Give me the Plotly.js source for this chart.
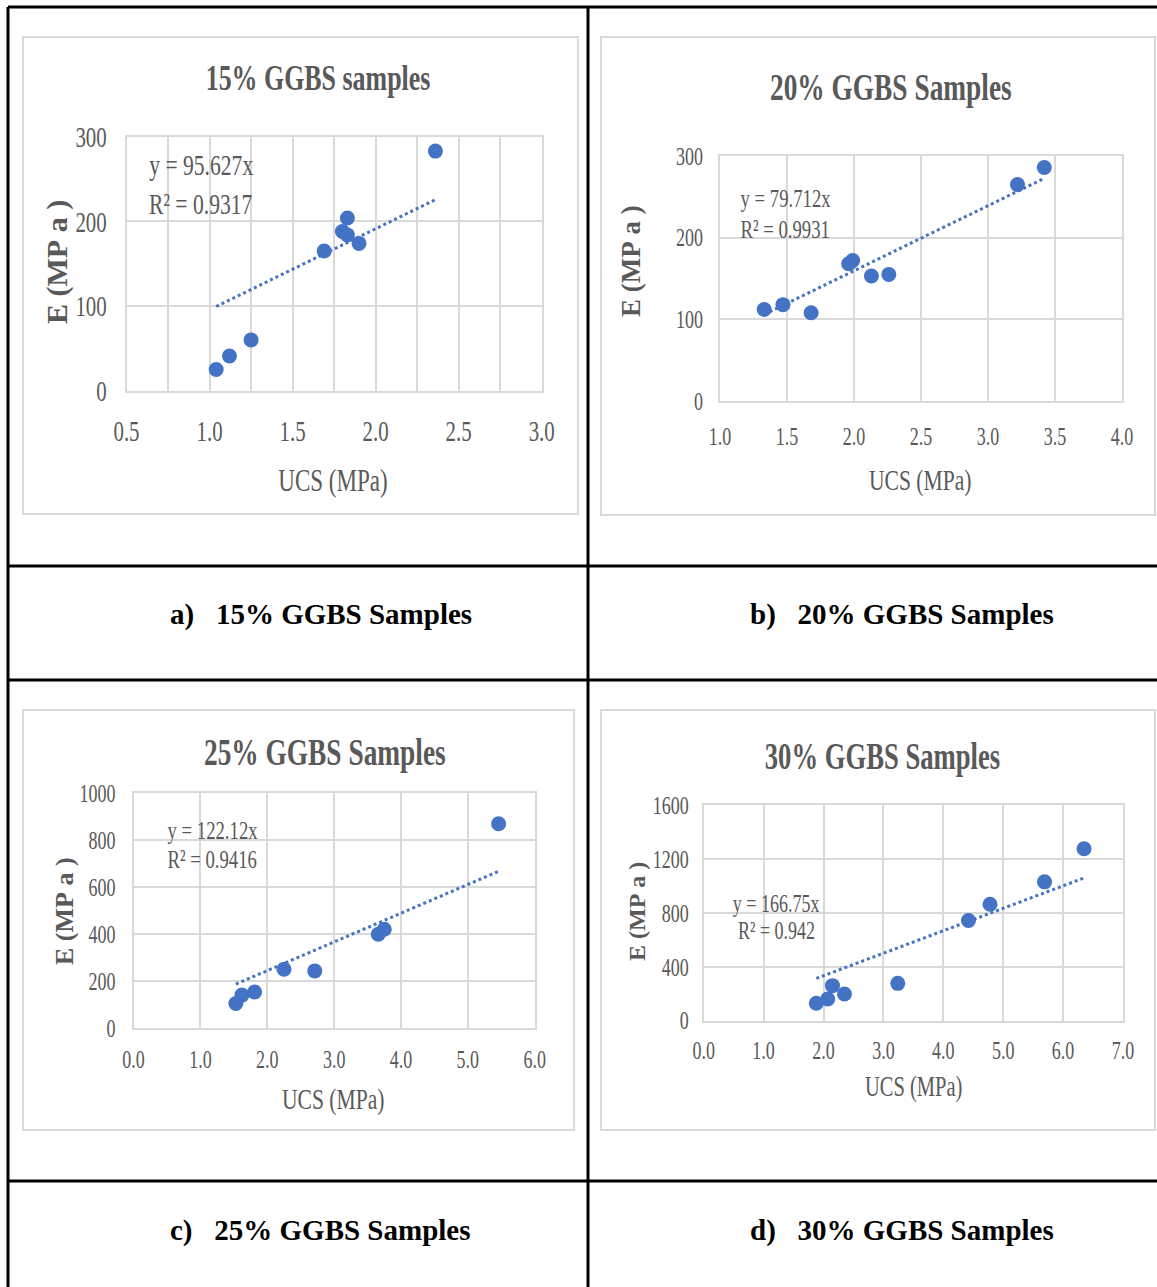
<!DOCTYPE html>
<html>
<head>
<meta charset="utf-8">
<script src="https://cdn.plot.ly/plotly-3.0.1.min.js"></script>
<style>html,body{margin:0;padding:0;background:#fff;}</style>
</head>
<body>
<div id="chart" style="width:1157px;height:1287px;"></div>
<script>
// ---- data ----
const ucs15 = [1.04, 1.12, 1.25, 1.69, 1.80, 1.83, 1.83, 1.90, 2.36];
const e15   = [25, 41, 60, 165, 188, 184, 204, 174, 283];
const ucs20 = [1.33, 1.47, 1.68, 1.96, 1.99, 2.13, 2.26, 3.22, 3.42];
const e20   = [112, 118, 108, 168, 172, 153, 155, 265, 286];
const ucs25 = [1.53, 1.62, 1.81, 2.25, 2.71, 3.66, 3.75, 5.46];
const e25   = [104, 140, 153, 250, 243, 399, 420, 869];
const ucs30 = [1.88, 2.07, 2.15, 2.35, 3.24, 4.42, 4.78, 5.69, 6.35];
const e30   = [129, 161, 260, 198, 277, 743, 864, 1030, 1275];
const slopes = [95.627, 79.712, 122.12, 166.75];
const r2Labels = ["0.9317", "0.9931", "0.9416", "0.942"];
const chartTitles = ["15% GGBS samples", "20% GGBS Samples", "25% GGBS Samples", "30% GGBS Samples"];
const captions = ["a)\u00a0\u00a0 15% GGBS Samples", "b)\u00a0\u00a0 20% GGBS Samples",
                  "c)\u00a0\u00a0 25% GGBS Samples", "d)\u00a0\u00a0 30% GGBS Samples"];
const xLabel = "UCS (MPa)";
const yLabel = "E\u00a0(MP\u00a0a\u00a0)";

// ---- layout helpers ----
const W = 1157, H = 1287;
const px = x => x / W;
const py = y => 1 - y / H;
const BLUE = '#4472C4', GRID = '#d9d9d9', TXT = '#595959';
const SERIF = 'Liberation Serif, Times New Roman, serif';
const SQUEEZE = 0.72;   // the reference chart images are horizontally compressed

const panels = [
  {xs: ucs15, ys: e15, xr: [0.5, 3.0], xd: 0.5, xminor: 0.25, yr: [0, 300], yd: 100,
   plot: [126.5, 541.7, 136.7, 390.7], fs: 29, xstand: 13, ystand: 12,
   title: [318, 78, 36], ytitle: [57, 262, 30], xtitle: [333, 480, 32],
   eq: [200.5, 165, 203, 30], frame: [23, 37, 578, 514]},
  {xs: ucs20, ys: e20, xr: [1.0, 4.0], xd: 0.5, xminor: null, yr: [0, 300], yd: 100,
   plot: [720, 1122, 156, 401], fs: 25, xstand: 12, ystand: 10,
   title: [891, 87, 38], ytitle: [631, 261, 27], xtitle: [920, 480, 30],
   eq: [785, 198, 230, 26], frame: [601, 37, 1155, 515]},
  {xs: ucs25, ys: e25, xr: [0, 6.0], xd: 1, xminor: null, yr: [0, 1000], yd: 200,
   plot: [133.6, 534.7, 793, 1028], fs: 25, xstand: 8, ystand: 11,
   title: [325, 752, 38], ytitle: [64, 911, 26], xtitle: [333, 1099, 30],
   eq: [212.5, 830, 859, 26], frame: [23, 710, 574, 1130]},
  {xs: ucs30, ys: e30, xr: [0, 7.0], xd: 1, xminor: null, yr: [0, 1600], yd: 400,
   plot: [703.7, 1123, 805, 1020.7], fs: 25, xstand: 6, ystand: 8,
   title: [882, 756, 37], ytitle: [637, 912, 24], xtitle: [913, 1087, 28.5],
   eq: [776, 903, 930, 25], frame: [601, 710, 1155, 1130]}
];

const data = [];
const layout = {
  width: W, height: H, margin: {l: 0, r: 0, t: 0, b: 0},
  paper_bgcolor: '#fff', plot_bgcolor: '#fff', showlegend: false,
  annotations: [], shapes: []
};
const squeezeIdx = new Set();
function addAnn(a, squeeze) {
  if (squeeze) squeezeIdx.add(layout.annotations.length);
  layout.annotations.push(Object.assign({xref: 'paper', yref: 'paper', showarrow: false,
    xanchor: 'center', yanchor: 'middle'}, a));
}

panels.forEach((p, i) => {
  const n = i === 0 ? '' : String(i + 1);
  const xa = 'x' + n, ya = 'y' + n;
  const xmin = Math.min(...p.xs), xmax = Math.max(...p.xs);
  data.push({
    x: [xmin, xmax], y: [slopes[i] * xmin, slopes[i] * xmax], xaxis: xa, yaxis: ya,
    mode: 'lines', line: {color: BLUE, width: 3, dash: 'dot'}, hoverinfo: 'skip'
  });
  data.push({
    x: p.xs, y: p.ys, xaxis: xa, yaxis: ya, mode: 'markers',
    marker: {color: BLUE, size: 15}
  });
  const xaxis = {
    domain: [px(p.plot[0]), px(p.plot[1])], range: p.xr, anchor: ya,
    tickmode: 'linear', tick0: p.xr[0], dtick: p.xd, tickformat: '.1f',
    showgrid: true, gridcolor: GRID, gridwidth: 2, zeroline: false,
    showline: true, mirror: true, linecolor: GRID, linewidth: 2,
    ticks: '', ticklabelstandoff: p.xstand,
    tickfont: {family: SERIF, size: p.fs, color: TXT}, fixedrange: true
  };
  if (p.xminor) xaxis.minor = {dtick: p.xminor, showgrid: true, gridcolor: GRID, gridwidth: 2, ticks: ''};
  const yaxis = {
    domain: [py(p.plot[3]), py(p.plot[2])], range: p.yr, anchor: xa,
    tickmode: 'linear', tick0: 0, dtick: p.yd,
    showgrid: true, gridcolor: GRID, gridwidth: 2, zeroline: false,
    showline: true, mirror: true, linecolor: GRID, linewidth: 2,
    ticks: '', ticklabelstandoff: p.ystand,
    tickfont: {family: SERIF, size: p.fs, color: TXT}, fixedrange: true
  };
  layout['xaxis' + n] = xaxis;
  layout['yaxis' + n] = yaxis;

  layout.shapes.push({type: 'rect', xref: 'paper', yref: 'paper',
    x0: px(p.frame[0]), x1: px(p.frame[2]), y0: py(p.frame[3]), y1: py(p.frame[1]),
    line: {color: GRID, width: 2}, layer: 'below'});

  addAnn({x: px(p.title[0]), y: py(p.title[1]), text: chartTitles[i],
    font: {family: SERIF, size: p.title[2], color: TXT, weight: 'bold'}}, true);
  addAnn({x: px(p.ytitle[0]), y: py(p.ytitle[1]), text: yLabel, textangle: -90,
    font: {family: SERIF, size: p.ytitle[2], color: TXT, weight: 'bold'}}, false);
  addAnn({x: px(p.xtitle[0]), y: py(p.xtitle[1]), text: xLabel,
    font: {family: SERIF, size: p.xtitle[2], color: TXT}}, true);
  addAnn({x: px(p.eq[0]), y: py(p.eq[1]), text: 'y = ' + slopes[i] + 'x',
    font: {family: SERIF, size: p.eq[3], color: TXT}}, true);
  addAnn({x: px(p.eq[0]), y: py(p.eq[2]), text: 'R² = ' + r2Labels[i],
    font: {family: SERIF, size: p.eq[3], color: TXT}}, true);
});

// captions
const capPos = [[168, 615], [748, 615], [168, 1230], [748, 1230]];
captions.forEach((c, i) => {
  addAnn({x: px(capPos[i][0]), y: py(capPos[i][1]), xanchor: 'left', text: c,
    font: {family: SERIF, size: 29, color: '#000', weight: 'bold'}}, false);
});

// table rules
const tableLines = [
  [8, 7, W, 7], [8, 7, 8, H], [588, 7, 588, H],
  [8, 566, W, 566], [8, 680, W, 680], [8, 1181, W, 1181]
];
tableLines.forEach(l => layout.shapes.push({type: 'line', xref: 'paper', yref: 'paper',
  x0: px(l[0]), y0: py(l[1]), x1: px(l[2]), y1: py(l[3]), line: {color: '#000', width: 3}}));

function squeeze(t) {
  const L = t.getComputedTextLength();
  if (L > 0) {
    t.setAttribute('textLength', (L * SQUEEZE).toFixed(2));
    t.setAttribute('lengthAdjust', 'spacingAndGlyphs');
  }
}

Plotly.newPlot('chart', data, layout, {staticPlot: true, displayModeBar: false}).then(gd => {
  gd.querySelectorAll('.xaxislayer-above text, .yaxislayer-above text').forEach(squeeze);
  gd.querySelectorAll('.annotation').forEach(g => {
    const idx = +g.getAttribute('data-index');
    if (squeezeIdx.has(idx)) g.querySelectorAll('text').forEach(squeeze);
  });
});
</script>
</body>
</html>
